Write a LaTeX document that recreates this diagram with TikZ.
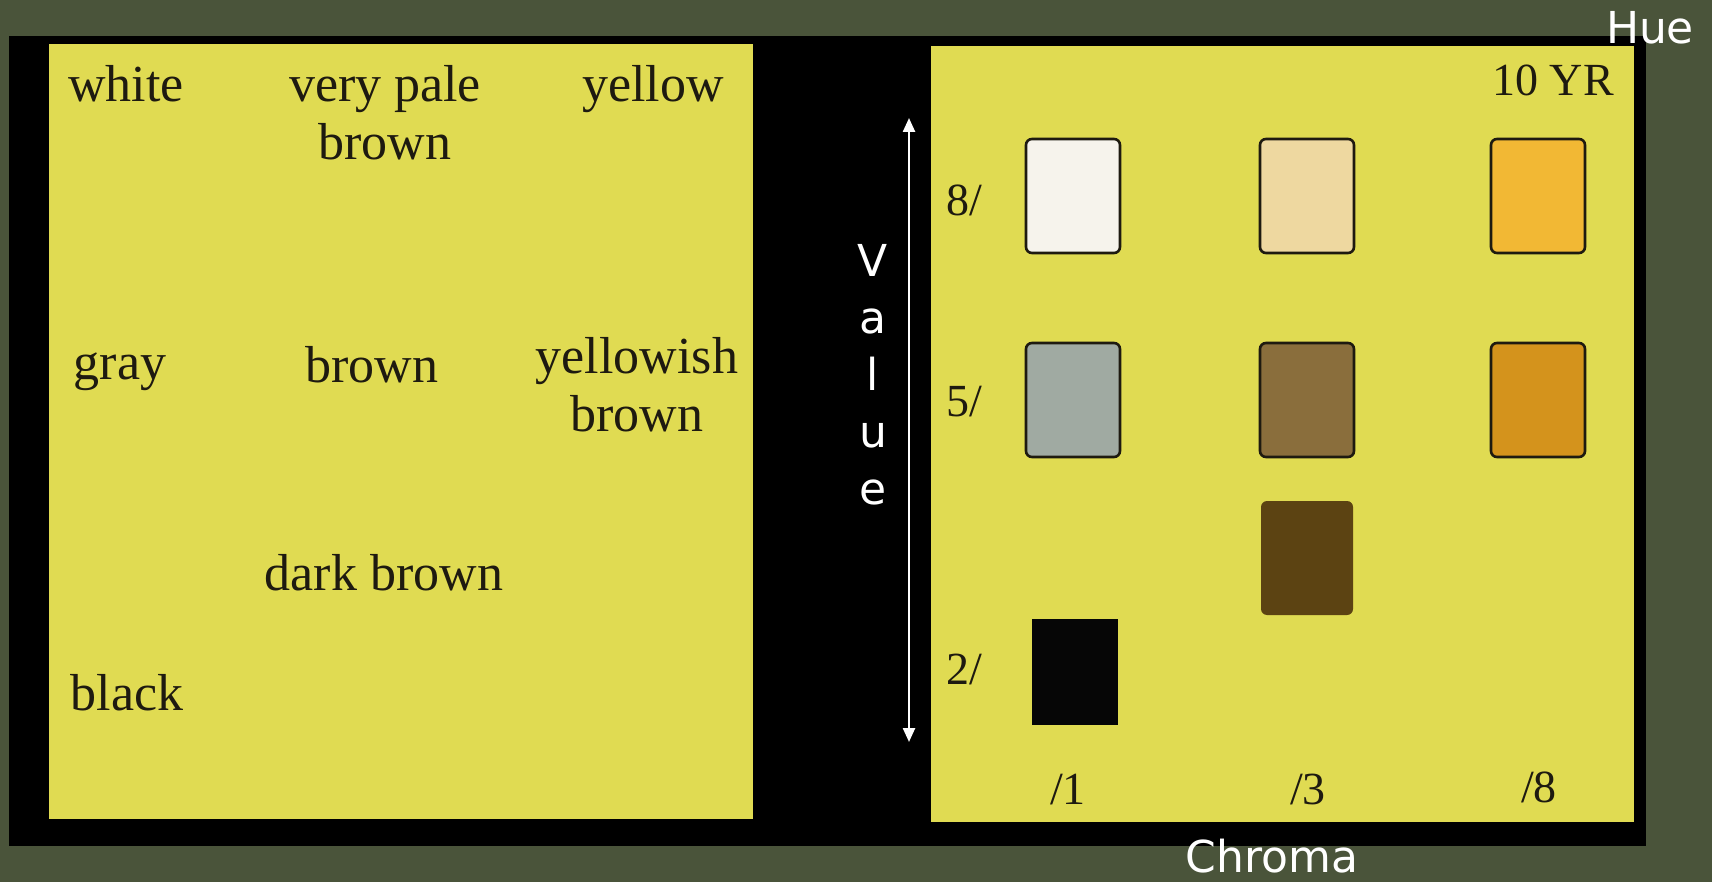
\documentclass[tikz,border=0pt]{standalone}
\usepackage{fontspec}
\setmainfont{Liberation Serif}
\newfontfamily\axisfont{DejaVu Sans}
\usetikzlibrary{arrows.meta}

\definecolor{bgolive}{RGB}{74,84,58}
\definecolor{cardyellow}{RGB}{224,219,82}
\definecolor{inkdark}{RGB}{30,26,16}
\definecolor{chipwhite}{RGB}{246,243,236}
\definecolor{chippale}{RGB}{238,216,160}
\definecolor{chipyellow}{RGB}{242,184,52}
\definecolor{chipgray}{RGB}{160,170,162}
\definecolor{chipbrown}{RGB}{138,110,60}
\definecolor{chipyb}{RGB}{212,147,28}
\definecolor{chipdark}{RGB}{92,67,18}
\definecolor{chipblack}{RGB}{6,6,6}

\begin{document}
\begin{tikzpicture}[x=0.5pt, y=-0.5pt,
  cardtext/.style={text=inkdark, align=center, anchor=base, font=\fontsize{26}{29}\selectfont},
  chiptext/.style={text=inkdark, anchor=base, font=\fontsize{23}{26}\selectfont},
  axistext/.style={text=white, font=\axisfont\fontsize{22}{28.5}\selectfont, align=center},
  chip/.style={draw=inkdark, line width=1.3pt, rounded corners=3pt, inner sep=0pt,
    minimum width=47pt, minimum height=57pt}]
  \useasboundingbox (0,0) rectangle (1712,882);
  \fill[bgolive] (0,0) rectangle (1712,882);
  \fill[black] (9,36) rectangle (1646,846);
  \fill[cardyellow] (49,44) rectangle (753,819);
  \fill[cardyellow] (931,46) rectangle (1634,822);

  \node[cardtext] (white) at (126,102) {white};
  \node[cardtext] (vpb) at (385,160) {very pale\\brown};
  \node[cardtext] (yellow) at (653,102) {yellow};
  \node[cardtext] (gray) at (120,379) {gray};
  \node[cardtext] (brown) at (372,382) {brown};
  \node[cardtext] (ybrown) at (637,431) {yellowish\\brown};
  \node[cardtext] (dbrown) at (384,590) {dark brown};
  \node[cardtext] (black) at (127,710) {black};

  \node[chiptext] (hue) at (1553,96) {10 YR};
  \node[chiptext] (v8) at (964,216) {8/};
  \node[chiptext] (v5) at (964,416) {5/};
  \node[chiptext] (v2) at (964,684) {2/};
  \node[chiptext] (c1) at (1068,804) {/1};
  \node[chiptext] (c3) at (1308,804) {/3};
  \node[chiptext] (c8) at (1539,802) {/8};

  \node[chip, fill=chipwhite] (w81) at (1073,196) {};
  \node[chip, fill=chippale] (w83) at (1307,196) {};
  \node[chip, fill=chipyellow] (w88) at (1538,196) {};
  \node[chip, fill=chipgray] (w51) at (1073,400) {};
  \node[chip, fill=chipbrown] (w53) at (1307,400) {};
  \node[chip, fill=chipyb] (w58) at (1538,400) {};
  \node[chip, fill=chipdark, draw=none, minimum width=46pt] (w33) at (1307,558) {};
  \node[chip, fill=chipblack, draw=none, rounded corners=0pt, minimum width=43pt,
    minimum height=53pt] (w21) at (1075,672) {};

  \coordinate (vtop) at (909,118);
  \coordinate (vbot) at (909,742);
  \draw[white, line width=1.2pt, {Triangle[length=7pt,width=6pt]}-{Triangle[length=7pt,width=6pt]}] (vtop) -- (vbot);
  \node[axistext] (value) at (873,375) {V\\a\\l\\u\\e};
  \node[axistext] (huelabel) at (1650,28) {Hue};
  \node[axistext] (chroma) at (1272,856) {Chroma};
\end{tikzpicture}
\end{document}
